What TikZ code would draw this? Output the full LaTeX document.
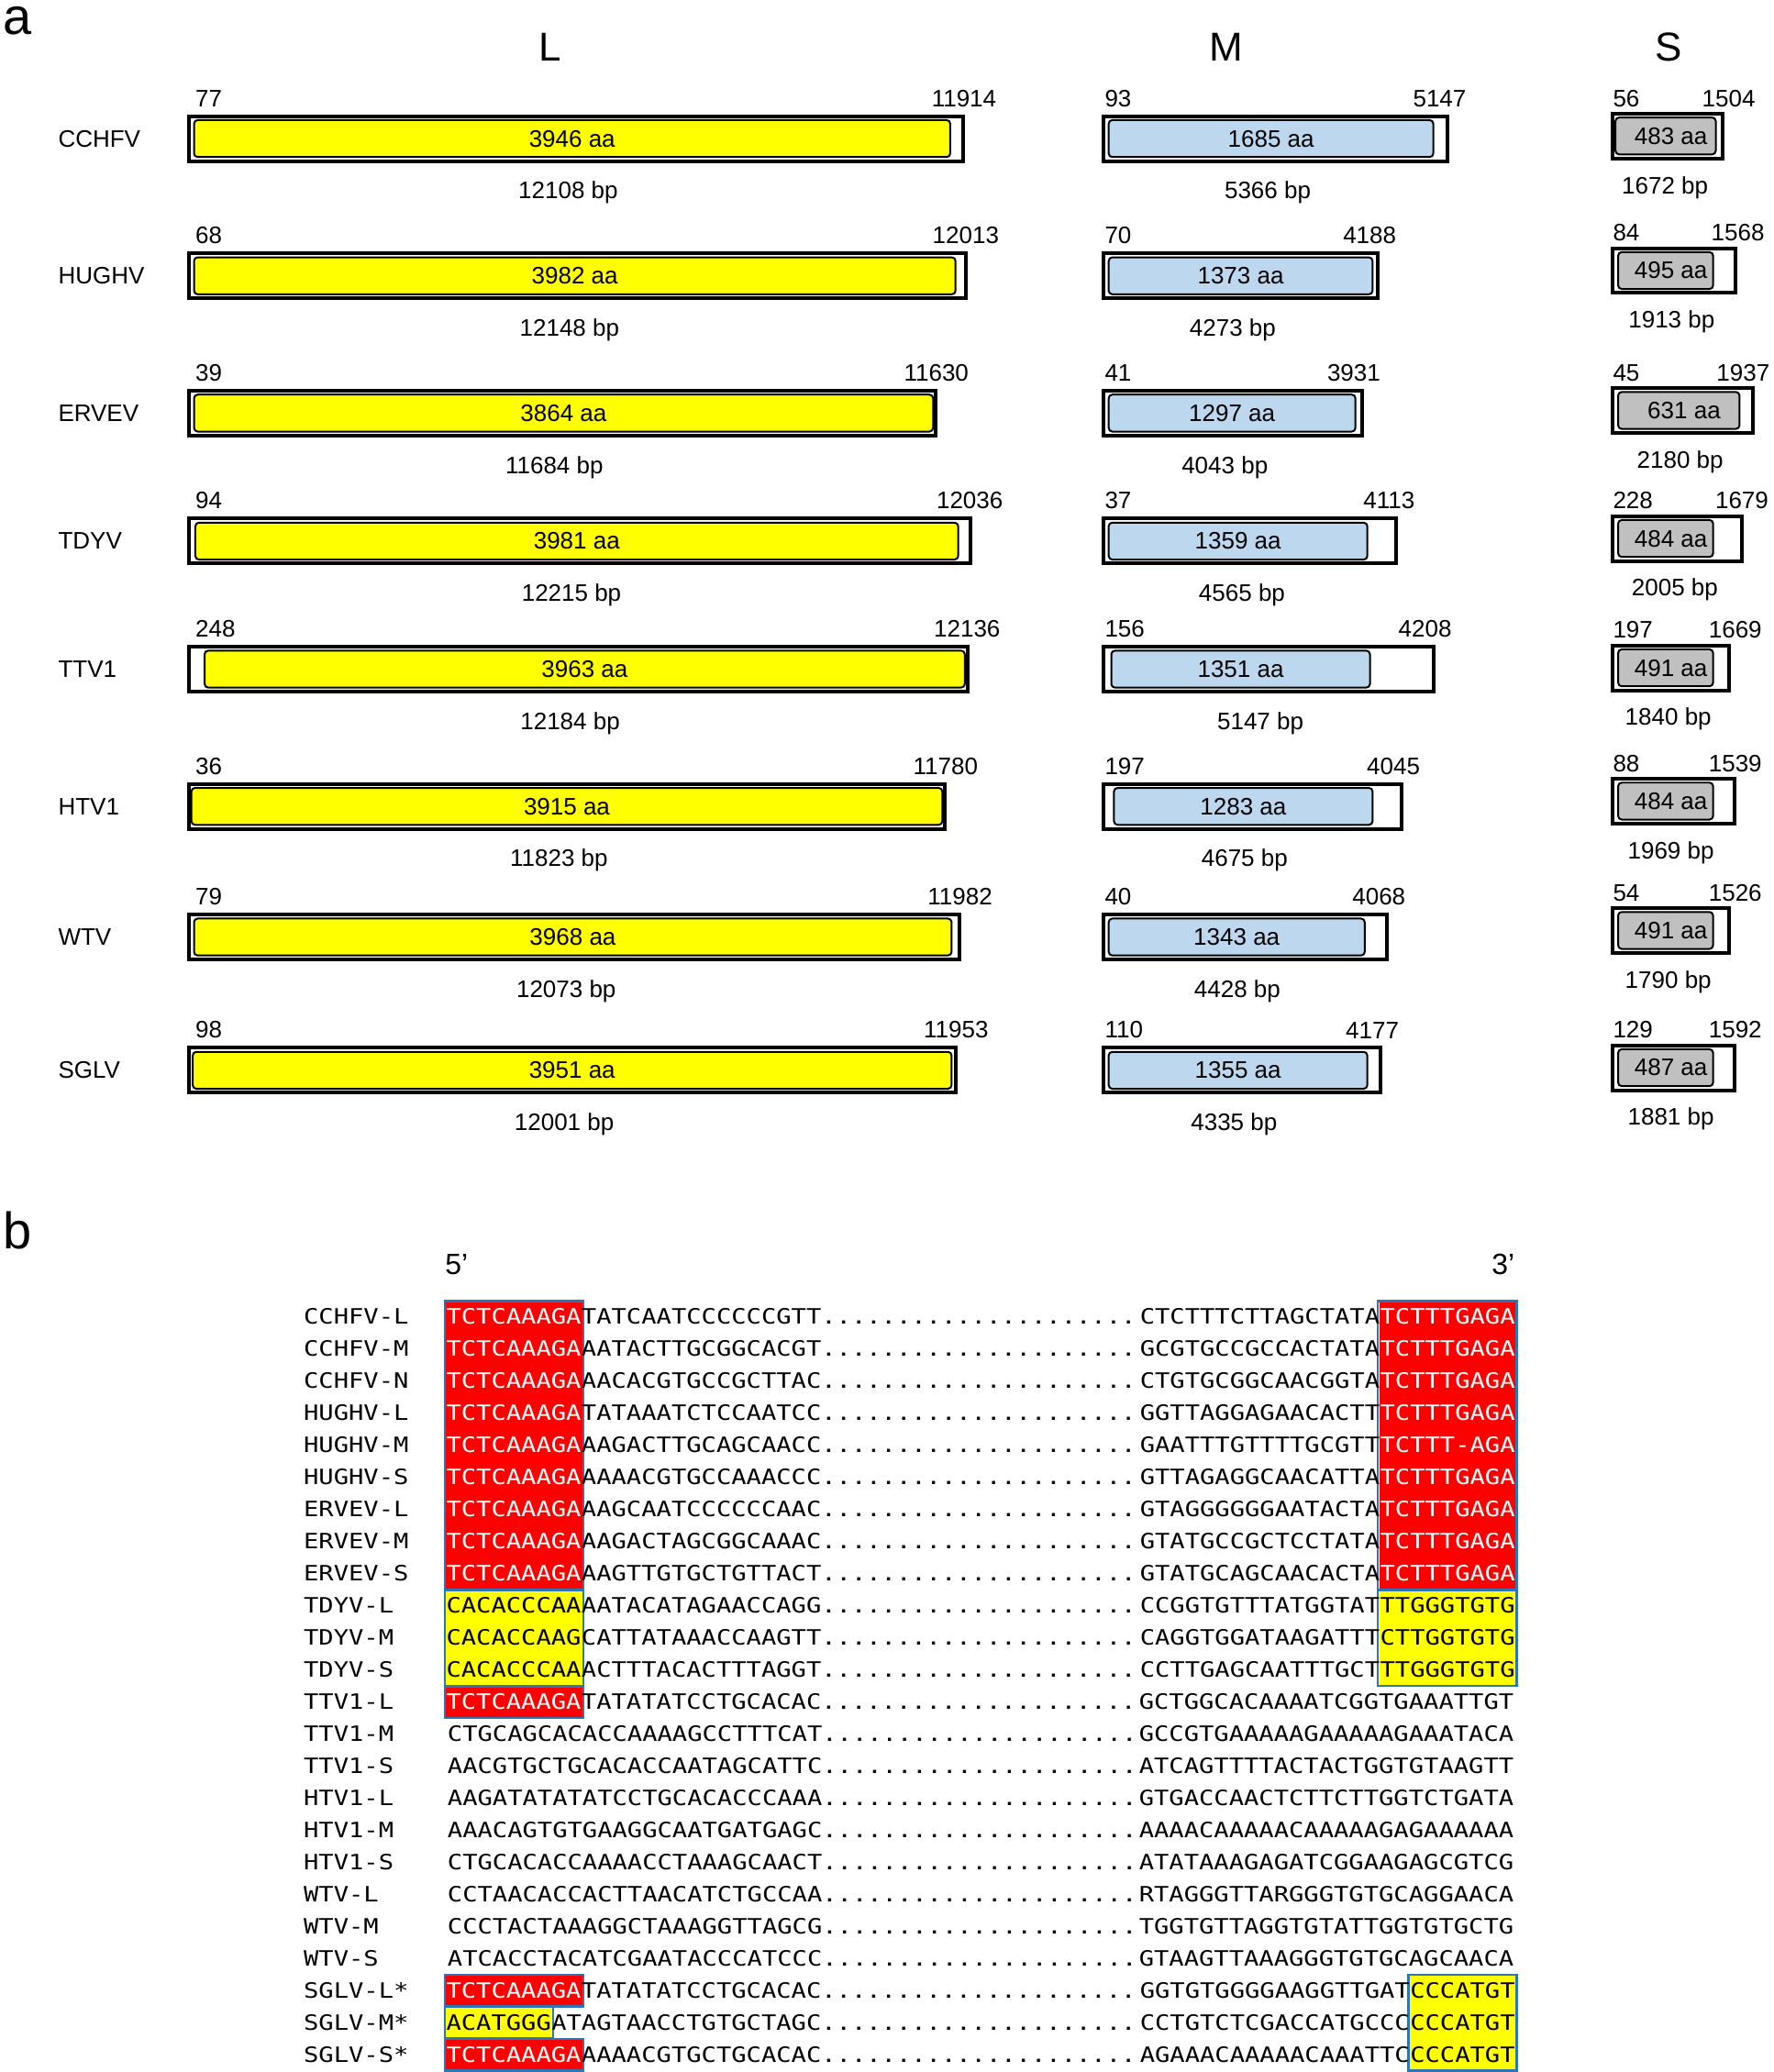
\documentclass[tikz,border=0pt]{standalone}
\usepackage{fontspec}
\setmainfont{Liberation Sans}
\newfontfamily\seqfont[FakeStretch=1.18]{DejaVu Sans Mono}
\definecolor{gyel}{HTML}{FFFF00}
\definecolor{gblu}{HTML}{BDD7EE}
\definecolor{ggry}{HTML}{C0C0C0}
\definecolor{sred}{HTML}{FF0000}
\definecolor{sbrd}{HTML}{2E75B6}
\begin{document}
\begin{tikzpicture}[x=1.439pt,y=-1.439pt,
  lab/.style={inner sep=0pt,font=\fontsize{26}{26}\selectfont},
  outerbar/.style={draw=black,line width=4pt,fill=white},
  innerbar/.style={draw=black,line width=2pt,rounded corners=4pt},
  sq/.style={inner sep=0pt,font=\seqfont\fontsize{23}{23}\selectfont},
  hlbox/.style={draw=sbrd,line width=2.5pt}]
\useasboundingbox (0,0) rectangle (1344,1570);
\node[lab,font=\fontsize{56}{56}\selectfont,anchor=west] (pa) at (2,16) {a};
\node[lab,font=\fontsize{44}{44}\selectfont] (tL) at (417,36) {L};
\node[lab,font=\fontsize{44}{44}\selectfont] (tM) at (929,36) {M};
\node[lab,font=\fontsize{44}{44}\selectfont] (tS) at (1264,36) {S};
% names
\foreach \n/\y in {CCHFV/105,HUGHV/209,ERVEV/313,TDYV/410,TTV1/507,HTV1/611,WTV/710,SGLV/811}
  \node[lab,anchor=west] (n\n) at (44,\y) {\n};
\foreach \n/\y/\oL/\iL/\iR/\oR/\aa/\s/\e/\bp in {
 CCHFV/105/143/147/720/730/3946/77/11914/12108,
 HUGHV/209/143/147/724/732/3982/68/12013/12148,
 ERVEV/313/143/147/707/709/3864/39/11630/11684,
 TDYV/410/143/148/726/735/3981/94/12036/12215,
 TTV1/507/143/155/731/733/3963/248/12136/12184,
 HTV1/611/143/145/714/716/3915/36/11780/11823,
 WTV/710/143/147/721/727/3968/79/11982/12073,
 SGLV/811/143/146/721/724/3951/98/11953/12001}{
 \draw[outerbar] (\oL,\y-17) rectangle (\oR,\y+17);
 \draw[innerbar,fill=gyel] (\iL,\y-14) rectangle (\iR,\y+14);
 \node[lab] (L\n aa) at ({(\iL+\iR)/2},\y) {\aa\ aa};
 \node[lab,anchor=south west] (L\n s) at (\oL+5,\y-24) {\s};
 \node[lab,anchor=south east] (L\n e) at (\oR+25,\y-24) {\e};
 \node[lab] (L\n bp) at ({(\oL+\oR)/2-6},\y+41) {\bp\ bp};
}
\foreach \n/\y/\oL/\iL/\iR/\oR/\aa/\s/\e/\bp in {
 CCHFV/105/836/840/1086/1097/1685/93/5147/5366,
 HUGHV/209/836/840/1040/1044/1373/70/4188/4273,
 ERVEV/313/836/840/1027/1032/1297/41/3931/4043,
 TDYV/410/836/840/1036/1058/1359/37/4113/4565,
 TTV1/507/836/842/1038/1086/1351/156/4208/5147,
 HTV1/611/836/844/1040/1062/1283/197/4045/4675,
 WTV/710/836/840/1034/1051/1343/40/4068/4428,
 SGLV/811/836/840/1036/1046/1355/110/4177/4335}{
 \draw[outerbar] (\oL,\y-17) rectangle (\oR,\y+17);
 \draw[innerbar,fill=gblu] (\iL,\y-14) rectangle (\iR,\y+14);
 \node[lab] (M\n aa) at ({(\iL+\iR)/2},\y) {\aa\ aa};
 \node[lab,anchor=south west] (M\n s) at (\oL+1,\y-24) {\s};
 \node[lab,anchor=south east] (M\n e) at (\oR+14,\y-24) {\e};
 \node[lab] (M\n bp) at ({(\oL+\oR)/2-6},\y+41) {\bp\ bp};
}
\foreach \n/\y/\oL/\iL/\iR/\oR/\aa/\s/\e/\bp/\eo in {
 CCHFV/103/1222/1224/1300/1305/483/56/1504/1672/25,
 HUGHV/205/1222/1226/1298/1315/495/84/1568/1913/22,
 ERVEV/311/1222/1226/1318/1328/631/45/1937/2180/13,
 TDYV/408/1222/1226/1298/1320/484/228/1679/2005/20,
 TTV1/506/1222/1226/1298/1310/491/197/1669/1840/25,
 HTV1/607/1222/1226/1298/1314/484/88/1539/1969/21,
 WTV/705/1222/1226/1298/1310/491/54/1526/1790/25,
 SGLV/809/1222/1226/1298/1314/487/129/1592/1881/21}{
 \draw[outerbar] (\oL,\y-17) rectangle (\oR,\y+17);
 \draw[innerbar,fill=ggry] (\iL,\y-14) rectangle (\iR,\y+14);
 \node[lab] (S\n aa) at ({(\iL+\iR)/2+4},\y) {\aa\ aa};
 \node[lab,anchor=south west] (S\n s) at (\oL,\y-22) {\s};
 \node[lab,anchor=south east] (S\n e) at (\oR+\eo,\y-22) {\e};
 \node[lab] (S\n bp) at ({(\oL+\oR)/2-2},\y+39) {\bp\ bp};
}
% panel b
\node[lab,font=\fontsize{56}{56}\selectfont,anchor=west] (pb) at (2,932) {b};
\node[lab,font=\fontsize{32}{32}\selectfont] (p5) at (346,958) {5’};
\node[lab,font=\fontsize{32}{32}\selectfont] (p3) at (1139,958) {3’};
% highlight fills
\fill[sred] (338,{998-12}) rectangle (441,{998+8*24.3+12});
\fill[gyel] (338,{998+9*24.3-12}) rectangle (441,{998+11*24.3+12});
\fill[sred] (338,{998+12*24.3-12}) rectangle (441,{998+12*24.3+12});
\fill[sred] (1045,{998-12}) rectangle (1148,{998+8*24.3+12});
\fill[gyel] (1045,{998+9*24.3-12}) rectangle (1148,{998+11*24.3+12});
\fill[sred] (338,{998+21*24.3-12}) rectangle (441,{998+21*24.3+12});
\fill[gyel] (338,{998+22*24.3-12}) rectangle (418,{998+22*24.3+12});
\fill[sred] (338,{998+23*24.3-12}) rectangle (441,{998+23*24.3+12});
\fill[gyel] (1068,{998+21*24.3-12}) rectangle (1148,{998+23*24.3+12});
\draw[hlbox] (337,{998-12}) rectangle (442,{998+8*24.3+12});
\draw[hlbox] (337,{998+9*24.3-12}) rectangle (442,{998+11*24.3+12});
\draw[hlbox] (337,{998+12*24.3-12}) rectangle (442,{998+12*24.3+12});
\draw[hlbox] (1044,{998-12}) rectangle (1149,{998+8*24.3+12});
\draw[hlbox] (1044,{998+9*24.3-12}) rectangle (1149,{998+11*24.3+12});
\draw[hlbox] (337,{998+21*24.3-12}) rectangle (442,{998+21*24.3+12});
\draw[hlbox] (337,{998+22*24.3-12}) rectangle (419,{998+22*24.3+12});
\draw[hlbox] (337,{998+23*24.3-12}) rectangle (442,{998+23*24.3+12});
\draw[hlbox] (1067,{998+21*24.3-12}) rectangle (1149,{998+23*24.3+12});
% sequences
\foreach \i/\nm/\lh/\lr/\rr/\rh/\lc/\rc in {
 1/CCHFV-L/TCTCAAAGA/TATCAATCCCCCCGTT/CTCTTTCTTAGCTATA/TCTTTGAGA/white/white,
 2/CCHFV-M/TCTCAAAGA/AATACTTGCGGCACGT/GCGTGCCGCCACTATA/TCTTTGAGA/white/white,
 3/CCHFV-N/TCTCAAAGA/AACACGTGCCGCTTAC/CTGTGCGGCAACGGTA/TCTTTGAGA/white/white,
 4/HUGHV-L/TCTCAAAGA/TATAAATCTCCAATCC/GGTTAGGAGAACACTT/TCTTTGAGA/white/white,
 5/HUGHV-M/TCTCAAAGA/AAGACTTGCAGCAACC/GAATTTGTTTTGCGTT/TCTTT-AGA/white/white,
 6/HUGHV-S/TCTCAAAGA/AAAACGTGCCAAACCC/GTTAGAGGCAACATTA/TCTTTGAGA/white/white,
 7/ERVEV-L/TCTCAAAGA/AAGCAATCCCCCCAAC/GTAGGGGGGAATACTA/TCTTTGAGA/white/white,
 8/ERVEV-M/TCTCAAAGA/AAGACTAGCGGCAAAC/GTATGCCGCTCCTATA/TCTTTGAGA/white/white,
 9/ERVEV-S/TCTCAAAGA/AAGTTGTGCTGTTACT/GTATGCAGCAACACTA/TCTTTGAGA/white/white,
 10/TDYV-L/CACACCCAA/AATACATAGAACCAGG/CCGGTGTTTATGGTAT/TTGGGTGTG/black/black,
 11/TDYV-M/CACACCAAG/CATTATAAACCAAGTT/CAGGTGGATAAGATTT/CTTGGTGTG/black/black,
 12/TDYV-S/CACACCCAA/ACTTTACACTTTAGGT/CCTTGAGCAATTTGCT/TTGGGTGTG/black/black,
 13/TTV1-L/TCTCAAAGA/TATATATCCTGCACAC/GCTGGCACAAAATCGGTGAAATTGT//white/black,
 14/TTV1-M//CTGCAGCACACCAAAAGCCTTTCAT/GCCGTGAAAAAGAAAAAGAAATACA//black/black,
 15/TTV1-S//AACGTGCTGCACACCAATAGCATTC/ATCAGTTTTACTACTGGTGTAAGTT//black/black,
 16/HTV1-L//AAGATATATATCCTGCACACCCAAA/GTGACCAACTCTTCTTGGTCTGATA//black/black,
 17/HTV1-M//AAACAGTGTGAAGGCAATGATGAGC/AAAACAAAAACAAAAAGAGAAAAAA//black/black,
 18/HTV1-S//CTGCACACCAAAACCTAAAGCAACT/ATATAAAGAGATCGGAAGAGCGTCG//black/black,
 19/WTV-L//CCTAACACCACTTAACATCTGCCAA/RTAGGGTTARGGGTGTGCAGGAACA//black/black,
 20/WTV-M//CCCTACTAAAGGCTAAAGGTTAGCG/TGGTGTTAGGTGTATTGGTGTGCTG//black/black,
 21/WTV-S//ATCACCTACATCGAATACCCATCCC/GTAAGTTAAAGGGTGTGCAGCAACA//black/black,
 22/SGLV-L*/TCTCAAAGA/TATATATCCTGCACAC/GGTGTGGGGAAGGTTGAT/CCCATGT/white/black,
 23/SGLV-M*/ACATGGG/ATAGTAACCTGTGCTAGC/CCTGTCTCGACCATGCCC/CCCATGT/black/black,
 24/SGLV-S*/TCTCAAAGA/AAAACGTGCTGCACAC/AGAAACAAAAACAAATTC/CCCATGT/white/black}{
 \pgfmathsetmacro\yy{998+(\i-1)*24.3+2}
 \node[sq,anchor=west] (nm\i) at (230,\yy) {\strut\nm};
 \node[sq,anchor=west,text=\lc] (lh\i) at (338,\yy) {\strut\lh};
 \node[sq,anchor=west] (lr\i) at (lh\i.east) {\strut\lr.....................};
 \node[sq,anchor=east,text=\rc] (rh\i) at (1148,\yy) {\strut\rh};
 \node[sq,anchor=east] (rr\i) at (rh\i.west) {\strut\rr};
}
\end{tikzpicture}
\end{document}
